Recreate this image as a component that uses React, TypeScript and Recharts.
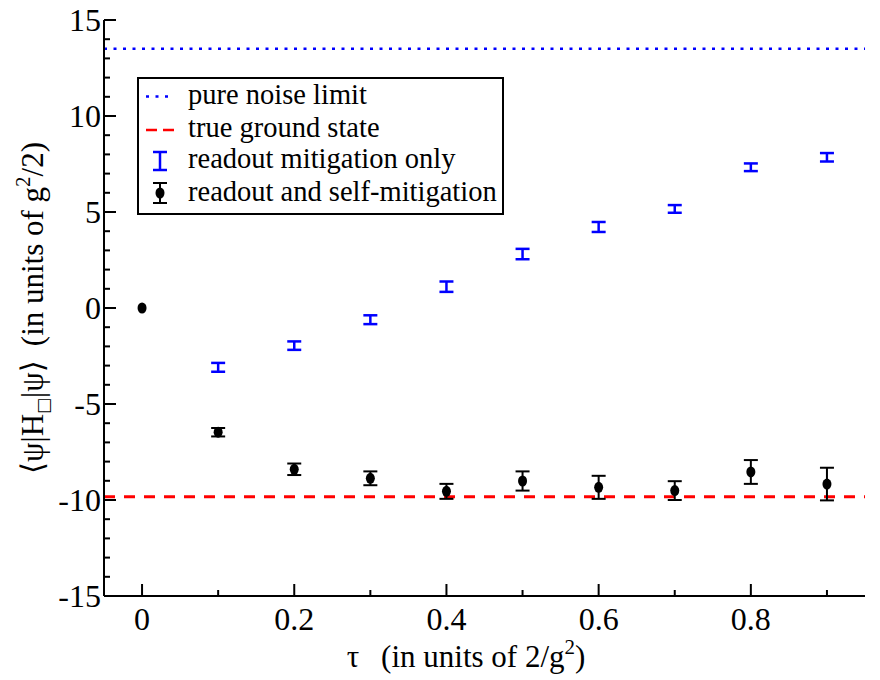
import React from 'react';
import {
  ComposedChart,
  Scatter,
  XAxis,
  YAxis,
  ErrorBar,
  ReferenceLine,
  Customized,
} from 'recharts';

// ---- data ----
const tauReadout = [0.1, 0.2, 0.3, 0.4, 0.5, 0.6, 0.7, 0.8, 0.9];
const readoutOnly = [-3.09, -1.96, -0.61, 1.11, 2.81, 4.22, 5.16, 7.33, 7.85];
const readoutOnlyErr = [0.23, 0.22, 0.23, 0.27, 0.27, 0.26, 0.2, 0.2, 0.22];

const tauSelf = [0, 0.1, 0.2, 0.3, 0.4, 0.5, 0.6, 0.7, 0.8, 0.9];
const selfMitigated = [0, -6.47, -8.4, -8.87, -9.55, -9.01, -9.34, -9.51, -8.54, -9.17];
const selfMitigatedErr = [0, 0.22, 0.3, 0.36, 0.39, 0.5, 0.6, 0.49, 0.62, 0.85];

const pureNoiseLimit = 13.5;
const trueGroundState = -9.83;

const xTicks = [0, 0.1, 0.2, 0.3, 0.4, 0.5, 0.6, 0.7, 0.8, 0.9];
const xLabelTicks = [0, 0.2, 0.4, 0.6, 0.8];
const yTicks = [
  -15, -14, -13, -12, -11, -10, -9, -8, -7, -6, -5, -4, -3, -2, -1, 0,
  1, 2, 3, 4, 5, 6, 7, 8, 9, 10, 11, 12, 13, 14, 15,
];
const yLabelTicks = [-15, -10, -5, 0, 5, 10, 15];

const legendLabels = [
  'pure noise limit',
  'true ground state',
  'readout mitigation only',
  'readout and self-mitigation',
];

const readoutData = tauReadout.map((t, i) => ({ tau: t, e: readoutOnly[i], err: readoutOnlyErr[i] }));
const selfData = tauSelf.map((t, i) => ({ tau: t, e: selfMitigated[i], err: selfMitigatedErr[i] }));

// ---- styling ----
const FONT = "'Liberation Serif', 'Times New Roman', Times, 'DejaVu Serif', serif";
const BLUE = '#0000ff';
const RED = '#ff0000';
const MAJOR = 12;
const MINOR = 6;

const txt = (size: number): React.CSSProperties => ({ fontFamily: FONT, fontSize: size, fill: '#000' });

const near = (a: number, list: number[]) => list.some((t) => Math.abs(t - a) < 1e-9);

function BottomTick(props: any) {
  const { x, y, payload } = props;
  const major = near(payload.value, xLabelTicks);
  return (
    <g>
      <line x1={x} y1={y} x2={x} y2={y - (major ? MAJOR : MINOR)} stroke="#000" strokeWidth={2} />
      {major && (
        <text x={x} y={y + 34} textAnchor="middle" style={txt(32)}>
          {String(payload.value)}
        </text>
      )}
    </g>
  );
}

function TopTick(props: any) {
  const { x, y, payload } = props;
  const major = near(payload.value, xLabelTicks);
  return <line x1={x} y1={y} x2={x} y2={y + (major ? MAJOR : MINOR)} stroke="#000" strokeWidth={2} />;
}

function LeftTick(props: any) {
  const { x, y, payload } = props;
  const major = near(payload.value, yLabelTicks);
  return (
    <g>
      <line x1={x} y1={y} x2={x + (major ? MAJOR : MINOR)} y2={y} stroke="#000" strokeWidth={2} />
      {major && (
        <text x={x - 3} y={y + 11} textAnchor="end" style={txt(32)}>
          {String(payload.value)}
        </text>
      )}
    </g>
  );
}

function RightTick(props: any) {
  const { x, y, payload } = props;
  const major = near(payload.value, yLabelTicks);
  return <line x1={x} y1={y} x2={x - (major ? MAJOR : MINOR)} y2={y} stroke="#000" strokeWidth={2} />;
}

function Decorations() {
  // chart coordinates: svg top sits at page y = 0, left at page x = 8
  const bx = 130;
  const by = 78;
  const bw = 365;
  const bh = 136;
  const textX = 180;
  const baselines = [104, 137, 168, 201];
  return (
    <g>
      {/* legend */}
      <rect x={bx} y={by} width={bw} height={bh} fill="#fff" stroke="#000" strokeWidth={2} />
      <line x1={138} y1={96.5} x2={161} y2={96.5} stroke={BLUE} strokeWidth={2.5} strokeDasharray="3 6.5" />
      <line x1={138} y1={130} x2={166} y2={130} stroke={RED} strokeWidth={2.5} strokeDasharray="11 6" />
      <g stroke={BLUE} strokeWidth={2.5}>
        <line x1={152} y1={152} x2={152} y2={170} />
        <line x1={145} y1={152} x2={159} y2={152} />
        <line x1={145} y1={170} x2={159} y2={170} />
      </g>
      <g stroke="#000" strokeWidth={2}>
        <line x1={152} y1={183} x2={152} y2={203} />
        <line x1={145} y1={183} x2={159} y2={183} />
        <line x1={145} y1={203} x2={159} y2={203} />
      </g>
      <ellipse cx={152} cy={193} rx={4.5} ry={5.5} fill="#000" />
      {legendLabels.map((l, i) => (
        <text key={l} x={textX} y={baselines[i]} style={txt(28.5)}>
          {l}
        </text>
      ))}
      {/* x axis label */}
      <text x={458} y={667} textAnchor="middle" style={txt(31)}>
        <tspan>τ</tspan>
        <tspan dx={22}>(in units of 2/g</tspan>
        <tspan style={{ fontSize: 21 }} dy={-13}>2</tspan>
        <tspan dy={13}>)</tspan>
      </text>
      {/* y axis label */}
      <text x={35} y={308} transform="rotate(-90, 35, 308)" textAnchor="middle" style={txt(31)}>
        <tspan>⟨ψ|H</tspan>
        <tspan style={{ fontSize: 17, fontFamily: "'DejaVu Sans', sans-serif", fill: '#000' }} dy={6}>
          □
        </tspan>
        <tspan dy={-6}>|ψ⟩</tspan>
        <tspan dx={14}>(in units of g</tspan>
        <tspan style={{ fontSize: 21 }} dy={-13}>2</tspan>
        <tspan dy={13}>/2)</tspan>
      </text>
    </g>
  );
}

export default function App() {
  return (
    <div style={{ fontFamily: FONT, width: 864, height: 680, marginTop: -8 }}>
      <ComposedChart
        width={864}
        height={680}
        margin={{ top: 20, right: 7, bottom: 0, left: 0 }}
        style={{ background: '#fff', fontFamily: FONT, overflow: 'visible' }}
      >
        <XAxis
          dataKey="tau"
          type="number"
          domain={[-0.05, 0.95]}
          allowDataOverflow
          ticks={xTicks}
          interval={0}
          height={84}
          tickSize={0}
          tickMargin={0}
          tickLine={false}
          tick={<BottomTick />}
          axisLine={{ stroke: '#000', strokeWidth: 2 }}
        />
        <XAxis
          xAxisId="top"
          orientation="top"
          type="number"
          domain={[-0.05, 0.95]}
          allowDataOverflow
          ticks={xTicks}
          interval={0}
          height={0}
          tickSize={0}
          tickMargin={0}
          tickLine={false}
          tick={<TopTick />}
          axisLine={{ stroke: '#000', strokeWidth: 2 }}
        />
        <YAxis
          type="number"
          domain={[-15, 15]}
          allowDataOverflow
          ticks={yTicks}
          interval={0}
          width={96}
          tickSize={0}
          tickMargin={0}
          tickLine={false}
          tick={<LeftTick />}
          axisLine={{ stroke: '#000', strokeWidth: 2 }}
        />
        <YAxis
          yAxisId="right"
          orientation="right"
          type="number"
          domain={[-15, 15]}
          allowDataOverflow
          ticks={yTicks}
          interval={0}
          width={0}
          tickSize={0}
          tickMargin={0}
          tickLine={false}
          tick={<RightTick />}
          axisLine={{ stroke: '#000', strokeWidth: 2 }}
        />
        <ReferenceLine y={pureNoiseLimit} stroke={BLUE} strokeWidth={2.5} strokeDasharray="3 6.5" />
        <ReferenceLine y={trueGroundState} stroke={RED} strokeWidth={3} strokeDasharray="11 9" />
        <Scatter
          name={legendLabels[2]}
          data={readoutData}
          dataKey="e"
          isAnimationActive={false}
          shape={() => <g />}
        >
          <ErrorBar dataKey="err" direction="y" width={7} stroke={BLUE} strokeWidth={2.5} />
        </Scatter>
        <Scatter
          name={legendLabels[3]}
          data={selfData}
          dataKey="e"
          isAnimationActive={false}
          shape={(p: any) => <ellipse cx={p.cx} cy={p.cy} rx={4.5} ry={5.5} fill="#000" />}
        >
          <ErrorBar dataKey="err" direction="y" width={7} stroke="#000" strokeWidth={2} />
        </Scatter>
        <Customized component={<Decorations />} />
      </ComposedChart>
    </div>
  );
}
